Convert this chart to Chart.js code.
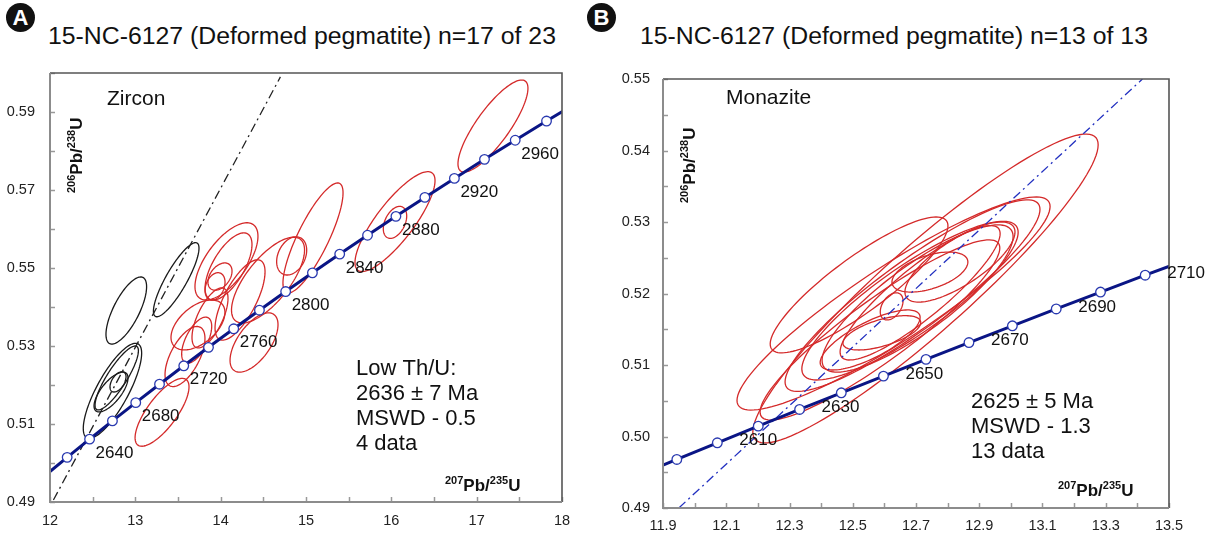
<!DOCTYPE html>
<html>
<head>
<meta charset="utf-8">
<script src="https://cdn.jsdelivr.net/npm/chart.js@4.4.1/dist/chart.umd.min.js"></script>
<style>
body { margin:0; background:#fff; width:1217px; height:538px; overflow:hidden; position:relative; font-family:"Liberation Sans", Arial, sans-serif; }
.badge { position:absolute; width:29px; height:29px; border-radius:50%; background:#111; color:#fff; font-weight:bold; font-size:22px; text-align:center; line-height:29px; }
.title { position:absolute; font-size:24.8px; color:#111; white-space:nowrap; }
canvas { position:absolute; top:0; }
</style>
</head>
<body>
<div class="badge" style="left:6px;top:3px">A</div>
<div class="title" style="left:48px;top:22px">15-NC-6127 (Deformed pegmatite) n=17 of 23</div>
<div class="badge" style="left:587px;top:3px">B</div>
<div class="title" style="left:640px;top:22px">15-NC-6127 (Deformed pegmatite) n=13 of 13</div>
<canvas id="ca" width="600" height="538" style="left:0"></canvas>
<canvas id="cb" width="617" height="538" style="left:600px"></canvas>
<script>
// concordia points (Ma) and their ratios, panel A
var agesA = [2600, 2620, 2640, 2660, 2680, 2700, 2720, 2740, 2760, 2780, 2800, 2820, 2840, 2860, 2880, 2900, 2920, 2940, 2960, 2980, 3000];
var concXA = [11.9437, 12.2012, 12.4638, 12.7316, 13.0048, 13.2834, 13.5675, 13.8573, 14.1528, 14.4542, 14.7617, 15.0752, 15.3950, 15.7211, 16.0537, 16.3930, 16.7389, 17.0918, 17.4517, 17.8187, 18.1931];
var concYA = [0.49679, 0.50145, 0.50611, 0.51079, 0.51548, 0.52020, 0.52492, 0.52966, 0.53441, 0.53918, 0.54396, 0.54876, 0.55357, 0.55840, 0.56324, 0.56810, 0.57297, 0.57786, 0.58276, 0.58768, 0.59261];
var labelAgesA = [2640, 2680, 2720, 2760, 2800, 2840, 2880, 2920, 2960];

// panel B
var agesB = [2590, 2600, 2610, 2620, 2630, 2640, 2650, 2660, 2670, 2680, 2690, 2700, 2710, 2720];
var concXB = [11.8169, 11.9437, 12.0718, 12.2012, 12.3319, 12.4638, 12.5971, 12.7316, 12.8675, 13.0048, 13.1434, 13.2834, 13.4247, 13.5675];
var concYB = [0.49447, 0.49679, 0.49912, 0.50145, 0.50378, 0.50611, 0.50845, 0.51079, 0.51314, 0.51548, 0.51784, 0.52020, 0.52256, 0.52492];
var labelAgesB = [2610, 2630, 2650, 2670, 2690, 2710];

// zircon analyses: excluded (black)
var blackX = [12.894, 13.479, 12.732, 12.782, 12.715, 12.797];
var blackY = [0.5391, 0.5470, 0.5185, 0.5218, 0.5182, 0.5208];
var blackSX = [0.238, 0.267, 0.342, 0.254, 0.199, 0.094];
var blackSY = [0.0086, 0.0095, 0.0122, 0.0082, 0.0051, 0.0026];
var blackRho = [0.71, 0.85, 0.79, 0.85, 0.70, 0.50];

// zircon analyses: used (red)
var zirX = [13.313, 14.068, 14.092, 13.992, 13.934, 13.734, 13.582, 13.719, 13.875, 14.391, 14.555, 14.832, 15.082, 16.043, 16.043, 17.191, 14.227];
var zirY = [0.5130, 0.5517, 0.5504, 0.5478, 0.5453, 0.5354, 0.5273, 0.5315, 0.5372, 0.5309, 0.5469, 0.5531, 0.5577, 0.5619, 0.5617, 0.5864, 0.5418];
var zirSX = [0.316, 0.369, 0.275, 0.141, 0.117, 0.316, 0.234, 0.176, 0.211, 0.281, 0.428, 0.176, 0.352, 0.469, 0.137, 0.410, 0.293];
var zirSY = [0.0087, 0.0099, 0.0086, 0.0035, 0.0035, 0.0064, 0.0077, 0.0059, 0.0077, 0.0076, 0.0110, 0.0049, 0.0141, 0.0128, 0.0041, 0.0118, 0.0103];
var zirRho = [0.75, 0.65, 0.65, 0.4, 0.3, 0.5, 0.6, 0.6, 0.65, 0.6, 0.7, 0.3, 0.82, 0.82, 0.4, 0.82, 0.7];

// monazite analyses
var monX = [12.730, 12.629, 12.689, 12.520, 12.681, 12.705, 12.713, 12.623, 12.592, 12.555, 12.839, 12.744, 12.586];
var monY = [0.5207, 0.5186, 0.5197, 0.5212, 0.5190, 0.5193, 0.5201, 0.5182, 0.5145, 0.5135, 0.5244, 0.5230, 0.5149];
var monSX = [0.546, 0.495, 0.403, 0.281, 0.342, 0.302, 0.253, 0.036, 0.123, 0.158, 0.174, 0.120, 0.379];
var monSY = [0.0216, 0.0149, 0.0134, 0.0095, 0.0111, 0.0103, 0.0094, 0.0019, 0.0024, 0.0042, 0.0056, 0.0028, 0.0126];
var monRho = [0.93, 0.91, 0.90, 0.87, 0.86, 0.84, 0.88, 0.4, 0.6, 0.75, 0.75, 0.5, 0.91];

// reference lines (end points)
var lineAX = [12.04, 14.70];
var lineAY = [0.4905, 0.599];
var lineBX = [11.95, 13.416];
var lineBY = [0.49, 0.55];

Chart.defaults.font.family = '"Liberation Sans", Arial, sans-serif';
var FONT = '"Liberation Sans", Arial, sans-serif';

function pts(xs, ys) {
	return xs.map(function (x, i) { return {x: x, y: ys[i]}; });
}

function ellipsePath(ctx, sx, sy, cx, cy, ax, ay, r) {
	var q = Math.sqrt(1 - r * r);
	ctx.beginPath();
	for (var i = 0; i <= 120; i++) {
		var t = i / 120 * 2 * Math.PI;
		var px = sx.getPixelForValue(cx + ax * Math.cos(t));
		var py = sy.getPixelForValue(cy + ay * (r * Math.cos(t) + q * Math.sin(t)));
		if (i) ctx.lineTo(px, py); else ctx.moveTo(px, py);
	}
	ctx.closePath();
}

function isoLabel(ctx, x, y, rotate, a, b) {
	// draws e.g. 206Pb/238U with superscripts
	ctx.save();
	ctx.translate(x, y);
	if (rotate) ctx.rotate(-Math.PI / 2);
	ctx.fillStyle = '#111';
	ctx.textBaseline = 'alphabetic';
	var parts = [[a, true], ['Pb/', false], [b, true], ['U', false]];
	var cur = 0;
	parts.forEach(function (p) {
		ctx.font = p[1] ? 'bold 11px ' + FONT : 'bold 17px ' + FONT;
		ctx.fillText(p[0], cur, p[1] ? -7 : 0);
		cur += ctx.measureText(p[0]).width;
	});
	ctx.restore();
}

function makePlugin(cfg) {
	return {
		id: 'geo',
		beforeDatasetsDraw: function (chart) {
			var ctx = chart.ctx, a = chart.chartArea, sx = chart.scales.x, sy = chart.scales.y;
			ctx.save();
			ctx.beginPath();
			ctx.rect(a.left, a.top, a.right - a.left, a.bottom - a.top);
			ctx.clip();
			cfg.ellipses.forEach(function (set) {
				ctx.strokeStyle = set.color;
				ctx.lineWidth = 1.3;
				set.x.forEach(function (cx, i) {
					ellipsePath(ctx, sx, sy, cx, set.y[i], set.sx[i], set.sy[i], set.rho[i]);
					ctx.stroke();
				});
			});
			ctx.restore();
		},
		afterDatasetsDraw: function (chart) {
			var ctx = chart.ctx, a = chart.chartArea, sx = chart.scales.x, sy = chart.scales.y;
			ctx.save();
			// inward ticks
			ctx.strokeStyle = '#999';
			ctx.lineWidth = 1.5;
			sx.ticks.forEach(function (t) {
				var p = Math.round(sx.getPixelForValue(t.value)) + 0.5;
				ctx.beginPath(); ctx.moveTo(p, a.bottom); ctx.lineTo(p, a.bottom - 5); ctx.stroke();
			});
			sy.ticks.forEach(function (t) {
				var p = Math.round(sy.getPixelForValue(t.value)) + 0.5;
				ctx.beginPath(); ctx.moveTo(a.left, p); ctx.lineTo(a.left + 5, p); ctx.stroke();
			});
			// frame
			ctx.strokeStyle = '#555';
			ctx.lineWidth = 1.6;
			ctx.beginPath(); ctx.moveTo(a.left, a.top); ctx.lineTo(a.right, a.top); ctx.lineTo(a.right, a.bottom); ctx.stroke();
			ctx.strokeStyle = '#8c8c8c';
			ctx.lineWidth = 2;
			ctx.beginPath(); ctx.moveTo(a.left, a.top); ctx.lineTo(a.left, a.bottom); ctx.lineTo(a.right, a.bottom); ctx.stroke();
			// age labels on the concordia
			ctx.fillStyle = '#111';
			ctx.font = '17px ' + FONT;
			ctx.textBaseline = 'middle';
			ctx.textAlign = 'left';
			cfg.labelAges.forEach(function (age) {
				var i = cfg.ages.indexOf(age);
				var px = sx.getPixelForValue(cfg.cx[i]), py = sy.getPixelForValue(cfg.cy[i]);
				ctx.fillText(String(age), px + cfg.labelDx, py + cfg.labelDy);
			});
			// free texts
			ctx.textBaseline = 'alphabetic';
			cfg.texts.forEach(function (t) {
				ctx.font = t.size + 'px ' + FONT;
				t.lines.forEach(function (line, k) {
					ctx.fillText(line, t.x, t.y + k * t.lh);
				});
			});
			isoLabel(ctx, cfg.yTitle[0], cfg.yTitle[1], true, '206', '238');
			isoLabel(ctx, cfg.xTitle[0], cfg.xTitle[1], false, '207', '235');
			ctx.restore();
		}
	};
}

function makeChart(id, o) {
	return new Chart(document.getElementById(id), {
		type: 'scatter',
		data: {
			datasets: [
				{
					data: pts(o.cx, o.cy),
					showLine: true,
					borderColor: '#0a1585',
					borderWidth: 3,
					pointRadius: 4.8,
					pointBackgroundColor: '#fff',
					pointBorderColor: '#2a3ab0',
					pointBorderWidth: 1.3
				},
				{
					data: pts(o.lx, o.ly),
					showLine: true,
					borderColor: o.lineColor,
					borderWidth: 1.3,
					borderDash: [9, 4, 2, 4],
					pointRadius: 0
				}
			]
		},
		options: {
			responsive: false,
			animation: false,
			devicePixelRatio: 1,
			layout: { padding: o.padding },
			plugins: { legend: { display: false }, tooltip: { enabled: false } },
			scales: {
				x: {
					type: 'linear', min: o.xmin, max: o.xmax,
					grid: { display: false, drawTicks: false },
					border: { display: false },
					ticks: { stepSize: o.xstep, padding: o.xpad, color: '#222', font: { size: 14.5 }, autoSkip: false, maxRotation: 0, callback: o.xcb },
					afterFit: function (s) { s.height = o.xh; }
				},
				y: {
					type: 'linear', min: o.ymin, max: o.ymax,
					grid: { display: false, drawTicks: false },
					border: { display: false },
					ticks: { stepSize: o.ystep, padding: o.ypad, color: '#222', font: { size: 14.5 }, autoSkip: false, callback: o.ycb },
					afterFit: function (s) { s.width = o.yw; }
				}
			}
		},
		plugins: [makePlugin(o.plugin)]
	});
}

makeChart('ca', {
	cx: concXA, cy: concYA, lx: lineAX, ly: lineAY, lineColor: '#222',
	padding: { left: 0, top: 73, right: 38, bottom: 0 },
	xmin: 12, xmax: 18, xstep: 0.5, xpad: 10, xh: 36,
	xcb: function (v) { return Math.abs(v - Math.round(v)) < 1e-6 ? String(Math.round(v)) : ''; },
	ymin: 0.49, ymax: 0.60, ystep: 0.01, ypad: 15, yw: 50,
	ycb: function (v) { var k = Math.round(v * 100); return k % 2 === 1 ? (k / 100).toFixed(2) : ''; },
	plugin: {
		ellipses: [
			{ color: '#1a1a1a', x: blackX, y: blackY, sx: blackSX, sy: blackSY, rho: blackRho },
			{ color: '#d42a2a', x: zirX, y: zirY, sx: zirSX, sy: zirSY, rho: zirRho }
		],
		ages: agesA, cx: concXA, cy: concYA, labelAges: labelAgesA, labelDx: 6, labelDy: 14,
		texts: [
			{ lines: ['Zircon'], x: 107, y: 105, size: 21, lh: 0 },
			{ lines: ['Low Th/U:', '2636 \u00b1 7 Ma', 'MSWD - 0.5', '4 data'], x: 356, y: 375, size: 22, lh: 25 }
		],
		yTitle: [82, 193], xTitle: [445, 491]
	}
});

makeChart('cb', {
	cx: concXB, cy: concYB, lx: lineBX, ly: lineBY, lineColor: '#2230c0',
	padding: { left: 0, top: 79, right: 48, bottom: 0 },
	xmin: 11.9, xmax: 13.5, xstep: 0.1, xpad: 9, xh: 30,
	xcb: function (v) { var k = Math.round(v * 10); return k % 2 === 1 ? (k / 10).toFixed(1) : ''; },
	ymin: 0.49, ymax: 0.55, ystep: 0.005, ypad: 13, yw: 63,
	ycb: function (v) { var k = Math.round(v * 1000); return k % 10 === 0 ? (k / 1000).toFixed(2) : ''; },
	plugin: {
		ellipses: [
			{ color: '#d42a2a', x: monX, y: monY, sx: monSX, sy: monSY, rho: monRho }
		],
		ages: agesB, cx: concXB, cy: concYB, labelAges: labelAgesB, labelDx: 22, labelDy: -2,
		texts: [
			{ lines: ['Monazite'], x: 126, y: 104, size: 21, lh: 0 },
			{ lines: ['2625 \u00b1 5 Ma', 'MSWD - 1.3', '13 data'], x: 371, y: 408, size: 22, lh: 25 }
		],
		yTitle: [95, 203], xTitle: [458, 496]
	}
});
</script>
</body>
</html>
